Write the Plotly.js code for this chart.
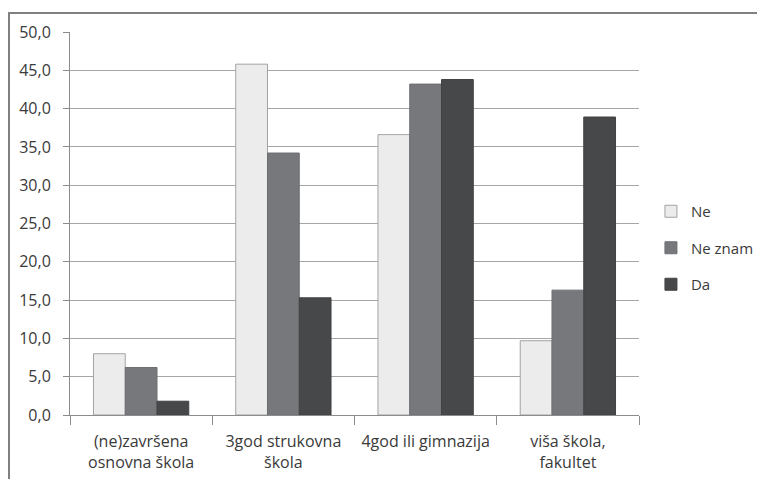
<!DOCTYPE html>
<html>
<head>
<meta charset="utf-8">
<script src="https://cdn.plot.ly/plotly-3.0.1.min.js"></script>
<style>
  html, body { margin: 0; padding: 0; background: #fff; }
  #wrap { position: relative; width: 757px; height: 479px; overflow: hidden; }
  #chart { position: absolute; left: 0; top: 0; width: 757px; height: 479px; }
  #frame { position: absolute; left: 8px; top: 12px; width: 760px; height: 480px;
           border-left: 2px solid #808080; border-top: 2px solid #808080; pointer-events: none; }
</style>
</head>
<body>
<div id="wrap">
  <div id="chart"></div>
  <div id="frame"></div>
</div>
<script>
const categories = ["(ne)završena<br>osnovna škola", "3god strukovna<br>škola", "4god ili gimnazija", "viša škola,<br>fakultet"];
const seriesNames = ["Ne", "Ne znam", "Da"];
const valuesNe = [8.0, 45.8, 36.6, 9.7];
const valuesNeZnam = [6.2, 34.2, 43.2, 16.3];
const valuesDa = [1.8, 15.3, 43.8, 38.9];
const tickValues = [0, 5, 10, 15, 20, 25, 30, 35, 40, 45, 50];

const fills = ["#ececec", "#77787c", "#47484a"];
const outlines = ["#a3a3a3", "#6e6f73", "#414244"];
const allValues = [valuesNe, valuesNeZnam, valuesDa];

const FONT = "Open Sans, Liberation Sans, sans-serif";

const traces = allValues.map((vals, i) => ({
  type: "bar",
  name: seriesNames[i],
  x: categories,
  y: vals,
  legendgroup: "g" + i,
  marker: { color: fills[i], line: { color: outlines[i], width: 1 } },
  hoverinfo: "skip"
}));

const layout = {
  width: 757,
  height: 479,
  margin: { l: 70, r: 118, t: 32, b: 64, autoexpand: false },
  paper_bgcolor: "#ffffff",
  plot_bgcolor: "#ffffff",
  separators: ",.",
  font: { family: FONT, size: 15, color: "#3a3a3a" },
  barmode: "group",
  bargap: 0.33,
  bargroupgap: 0,
  showlegend: true,
  legend: {
    x: 1.021, xanchor: "left",
    y: 0.436, yanchor: "middle",
    traceorder: "grouped",
    tracegroupgap: 14,
    font: { family: FONT, size: 15, color: "#3a3a3a" },
    bgcolor: "rgba(0,0,0,0)"
  },
  xaxis: {
    type: "category",
    showline: true, linecolor: "#8c8c8c", linewidth: 1,
    showgrid: false,
    ticks: "outside", ticklen: 9, tickcolor: "#8c8c8c",
    tickson: "boundaries",
    ticklabelstandoff: 12,
    tickfont: { family: FONT, size: 16, color: "#3a3a3a" },
    automargin: false
  },
  yaxis: {
    range: [0, 50],
    tickvals: tickValues,
    tickformat: ".1f",
    showline: true, linecolor: "#8c8c8c", linewidth: 1,
    showgrid: true, gridcolor: "#a6a6a6", gridwidth: 1,
    ticks: "outside", ticklen: 6, tickcolor: "#8c8c8c",
    ticklabelstandoff: 9,
    zeroline: false,
    tickfont: { family: FONT, size: 16, color: "#3a3a3a" },
    automargin: false
  }
};

Plotly.newPlot("chart", traces, layout, { staticPlot: true, displayModeBar: false });
</script>
</body>
</html>
